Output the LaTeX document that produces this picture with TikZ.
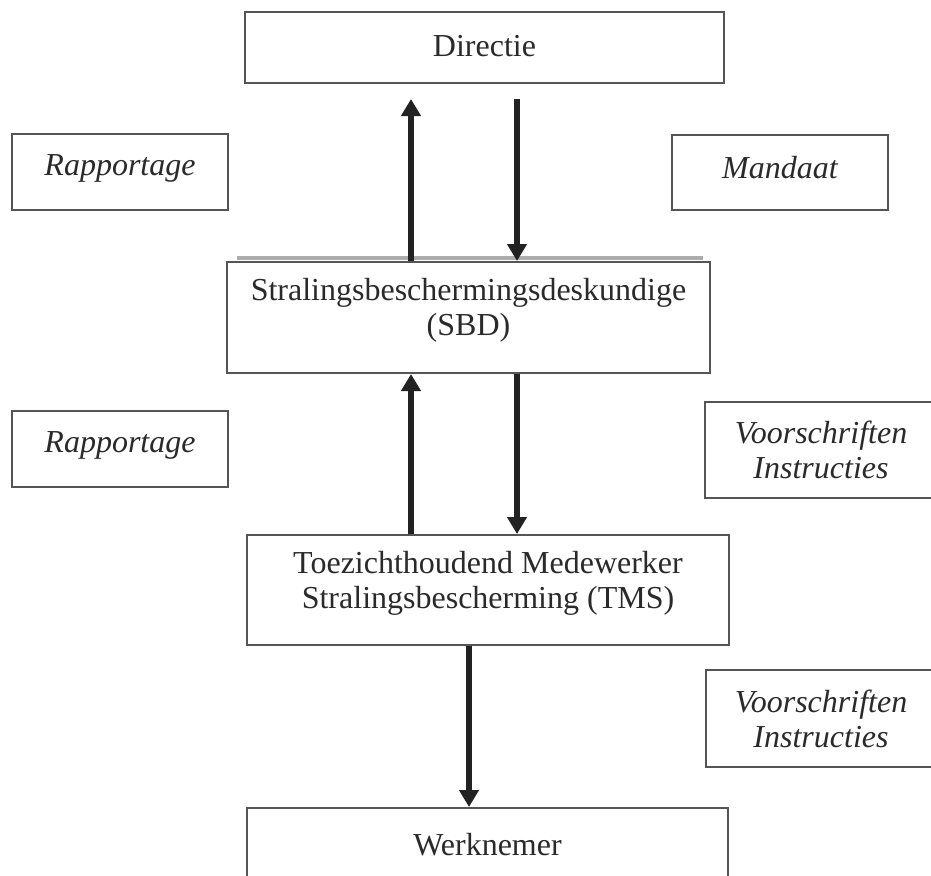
\documentclass[tikz,border=0pt]{standalone}
\usepackage{fontspec}
\setmainfont{Liberation Serif}
\usetikzlibrary{arrows.meta}
\definecolor{boxc}{HTML}{555555}
\definecolor{txtc}{HTML}{2A2A2A}
\definecolor{arrc}{HTML}{222222}
\tikzset{
  box/.style={draw=boxc, line width=2pt, rectangle, inner sep=0pt, fill=white},
  txt/.style={text=txtc, align=center, inner sep=0pt, font=\fontsize{32}{35}\selectfont},
  itxt/.style={txt, font=\fontsize{32}{35}\selectfont\itshape},
  arr/.style={draw=arrc, line width=6.5pt, -{Triangle[width=19pt,length=17pt]}},
  plainline/.style={draw=arrc, line width=6.5pt}
}
\begin{document}
\begin{tikzpicture}[x=1pt,y=-1pt]
\useasboundingbox (0,0) rectangle (931,875);
\clip (0,0) rectangle (931,875);
\fill[white] (0,0) rectangle (931,875);
% main boxes
\node[box, minimum width=479pt, minimum height=71pt] (dir) at (484.5,47.5) {};
\node[txt] (dirt) at (484.5,46) {Directie};
\draw[gray!65, line width=4pt] (237,258) -- (703,258);
\node[box, minimum width=483pt, minimum height=111pt] (sbd) at (468.5,317.5) {};
\node[txt] (sbdt) at (468.5,310) {Stralingsbeschermingsdeskundige\\(SBD)};
\node[box, minimum width=482pt, minimum height=110pt] (tms) at (488,590) {};
\node[txt] (tmst) at (488,583) {Toezichthoudend Medewerker\\Stralingsbescherming (TMS)};
\node[box, minimum width=481pt, minimum height=92pt] (wrk) at (487.5,854) {};
\node[txt, anchor=base] (wrkt) at (487.5,855) {Werknemer};
% label boxes
\node[box, minimum width=216pt, minimum height=76pt] (rap1) at (120,172) {};
\node[itxt] (rap1t) at (120,168) {Rapportage};
\node[box, minimum width=216pt, minimum height=75pt] (man) at (780,172.5) {};
\node[itxt] (mant) at (780,168) {Mandaat};
\node[box, minimum width=216pt, minimum height=76pt] (rap2) at (120,449) {};
\node[itxt] (rap2t) at (120,445) {Rapportage};
\node[box, minimum width=230pt, minimum height=96pt] (vs1) at (820,450) {};
\node[itxt] (vs1t) at (821,450) {Voorschriften\\Instructies};
\node[box, minimum width=229pt, minimum height=97pt] (vs2) at (820.5,718.5) {};
\node[itxt] (vs2t) at (821,719) {Voorschriften\\Instructies};
% free arrow ends
\coordinate (u1) at (411,99);
\coordinate (d1) at (517,99);
% arrows
\draw[arr] (sbd.north -| u1) -- (u1);
\draw[arr] (d1) -- (d1 |- sbd.north);
\draw[arr] (tms.north -| u1) -- (u1 |- sbd.south);
\draw[arr] (d1 |- sbd.south) -- (d1 |- tms.north);
\draw[arr] (469,0 |- tms.south) -- (469,0 |- wrk.north);
\end{tikzpicture}
\end{document}
